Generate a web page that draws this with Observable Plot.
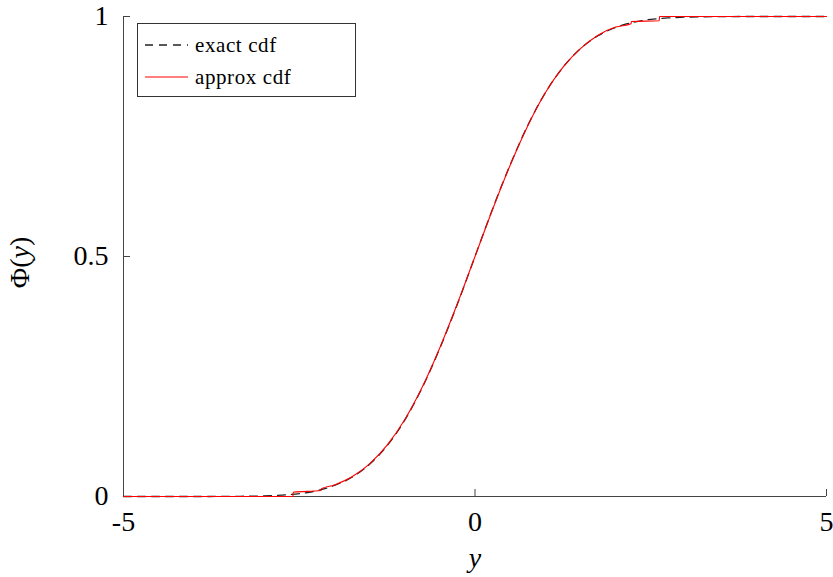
<!DOCTYPE html>
<html>
<head>
<meta charset="utf-8">
<script src="https://cdn.jsdelivr.net/npm/d3@7"></script>
<script src="https://cdn.jsdelivr.net/npm/@observablehq/plot@0.6"></script>
<style>
  html, body { margin: 0; padding: 0; background: #fff; }
  #wrap { position: relative; width: 833px; height: 577px; font-family: "Liberation Serif", serif; }
  #legend { position: absolute; left: 137px; top: 23px; width: 219px; height: 74px; border: 1px solid #333; background: #fff; box-sizing: border-box; }
  #legend .row { position: absolute; left: 0; height: 30px; display: flex; align-items: center; }
  #legend svg { margin-left: 7px; }
  #legend span { font-size: 21px; margin-left: 7px; letter-spacing: 0.6px; color: #000; }
</style>
</head>
<body>
<div id="wrap"></div>
<script>
// Exact cdf
const exactX = [-5, -4.5, -4, -3.5, -3.25, -3, -2.75, -2.5, -2.25, -2, -1.75, -1.5, -1.25, -1, -0.75, -0.5, -0.25, 0, 0.25, 0.5, 0.75, 1, 1.25, 1.5, 1.75, 2, 2.25, 2.5, 2.75, 3, 3.25, 3.5, 4, 4.5, 5];
const exactCdf = [0, 0, 0, 0.0002, 0.0006, 0.0013, 0.003, 0.006, 0.012, 0.023, 0.040, 0.067, 0.106, 0.159, 0.227, 0.309, 0.401, 0.5, 0.599, 0.691, 0.773, 0.841, 0.894, 0.933, 0.960, 0.977, 0.988, 0.994, 0.997, 0.9987, 0.9994, 0.9998, 1, 1, 1];
// Approximate cdf (with its steps)
const approxX = [-5, -2.59, -2.585, -2.19, -2.185, -2.0, -1.75, -1.5, -1.25, -1, -0.75, -0.5, -0.25, 0, 0.25, 0.5, 0.75, 1, 1.25, 1.5, 1.75, 2.0, 2.22, 2.225, 2.62, 2.625, 5];
const approxCdf = [0, 0, 0.009, 0.0125, 0.016, 0.024, 0.041, 0.068, 0.107, 0.160, 0.228, 0.310, 0.402, 0.5, 0.598, 0.690, 0.772, 0.841, 0.894, 0.933, 0.961, 0.978, 0.985, 0.9896, 0.991, 1, 1];
const xTicks = [-5, 0, 5];
const yTicks = [0, 0.5, 1];
const yTickLabels = ["0", "0.5", "1"];
const seriesNames = ["exact cdf", "approx cdf"];

const exactData = exactX.map((x, i) => ({x, y: exactCdf[i]}));
const approxData = approxX.map((x, i) => ({x, y: approxCdf[i]}));

const W = 833, H = 577, mL = 123, mR = 7, mT = 16, mB = 81;
const axisColor = "#444";

const chart = Plot.plot({
  width: W, height: H,
  marginLeft: mL, marginRight: mR, marginTop: mT, marginBottom: mB,
  style: { fontFamily: "Liberation Serif, serif", fontSize: "28px", background: "#fff", color: "#000" },
  x: { domain: [-5, 5] },
  y: { domain: [0, 1] },
  marks: [
    Plot.axisX(xTicks, { tickSize: 0, tickPadding: 15, tickFormat: d => String(d), label: null, fontSize: 28 }),
    Plot.axisY(yTicks, { tickSize: 0, tickPadding: 15, tickFormat: d => yTickLabels[yTicks.indexOf(d)], label: null, fontSize: 28 }),
    Plot.ruleY([0], { stroke: axisColor, strokeWidth: 1 }),
    Plot.ruleX([-5], { stroke: axisColor, strokeWidth: 1 }),
    Plot.tickX(xTicks, { x: d => d, stroke: axisColor, insetTop: H - mT - mB - 7 }),
    Plot.tickY(yTicks, { y: d => d, stroke: axisColor, insetRight: W - mL - mR - 7 }),
    Plot.line(exactData, { x: "x", y: "y", stroke: "#222", strokeWidth: 1.3, strokeDasharray: "8,6", curve: "monotone-x" }),
    Plot.line(approxData, { x: "x", y: "y", stroke: "#ff0000", strokeWidth: 1.1, curve: "monotone-x" }),
    Plot.text(["y"], { frameAnchor: "bottom", lineAnchor: "middle", dy: 62, fontSize: 28, fontStyle: "italic", fill: "#000" }),
    Plot.text(["Φ(y)"], { frameAnchor: "left", textAnchor: "middle", lineAnchor: "middle", dx: -103, dy: 6, rotate: -90, fontSize: 28, fill: "#000" })
  ]
});

// y label with italic y
d3.select(chart).selectAll("text").filter(function() { return this.textContent === "Φ(y)"; })
  .each(function() {
    const t = d3.select(this);
    t.text(null);
    t.append("tspan").text("Φ(");
    t.append("tspan").attr("font-style", "italic").text("y");
    t.append("tspan").text(")");
  });

const wrap = document.getElementById("wrap");
wrap.appendChild(chart);

// legend
const legend = document.createElement("div");
legend.id = "legend";
const dashes = ["8,6", null];
const colors = ["#222", "#ff0000"];
const tops = [6, 38];
seriesNames.forEach((name, i) => {
  const row = document.createElement("div");
  row.className = "row";
  row.style.top = tops[i] + "px";
  const svg = d3.create("svg").attr("width", 43).attr("height", 10);
  svg.append("line").attr("x1", 0).attr("x2", 43).attr("y1", 5).attr("y2", 5)
    .attr("stroke", colors[i]).attr("stroke-width", i === 0 ? 1.3 : 1.1)
    .attr("stroke-dasharray", dashes[i]);
  row.appendChild(svg.node());
  const span = document.createElement("span");
  span.textContent = name;
  row.appendChild(span);
  legend.appendChild(row);
});
wrap.appendChild(legend);
</script>
</body>
</html>
